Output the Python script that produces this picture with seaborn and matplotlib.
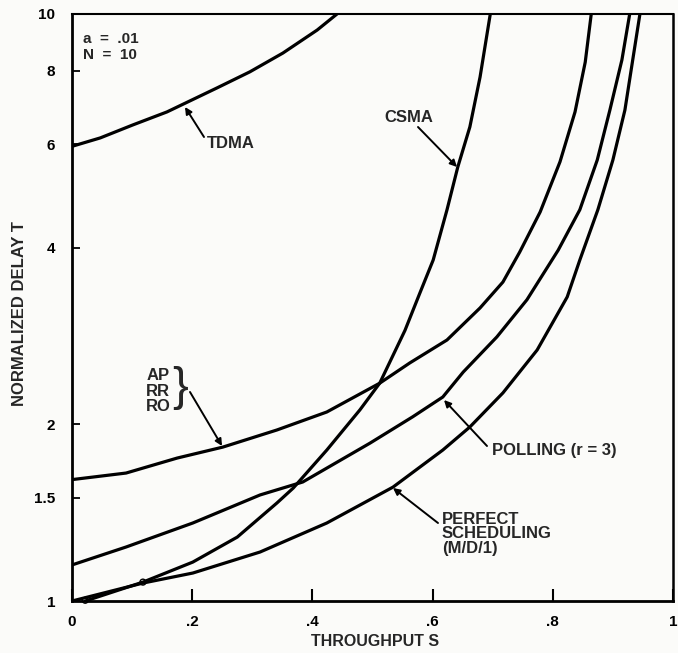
import numpy as np
import pandas as pd
import matplotlib
matplotlib.use("Agg")
import matplotlib.pyplot as plt
from matplotlib.ticker import FixedLocator, NullLocator
import seaborn as sns

# ---- data ----
tdma_s = [0.0, 0.047, 0.101, 0.158, 0.241, 0.296, 0.351, 0.408, 0.441]
tdma_t = [5.95, 6.15, 6.47, 6.81, 7.48, 7.97, 8.58, 9.39, 10.0]

csma_s = [0.022, 0.118, 0.201, 0.275, 0.341, 0.368, 0.424, 0.479, 0.512,
          0.554, 0.579, 0.601, 0.624, 0.642, 0.662, 0.679, 0.696]
csma_t = [1.0, 1.077, 1.165, 1.285, 1.469, 1.557, 1.808, 2.116, 2.35,
          2.89, 3.35, 3.81, 4.64, 5.49, 6.42, 7.81, 10.0]
csma_marker_s = [0.022, 0.118]
csma_marker_t = [1.003, 1.077]

ap_s = [0.0, 0.09, 0.175, 0.251, 0.341, 0.424, 0.512, 0.562, 0.624, 0.679,
        0.717, 0.745, 0.779, 0.812, 0.837, 0.854, 0.864]
ap_t = [1.61, 1.652, 1.752, 1.829, 1.956, 2.099, 2.35, 2.544, 2.784, 3.157,
        3.494, 3.931, 4.60, 5.60, 6.81, 8.28, 10.0]

poll_s = [0.0, 0.09, 0.201, 0.313, 0.384, 0.496, 0.567, 0.617, 0.651, 0.707,
          0.757, 0.809, 0.845, 0.874, 0.895, 0.915, 0.928]
poll_t = [1.152, 1.236, 1.358, 1.516, 1.595, 1.858, 2.06, 2.226, 2.455, 2.818,
          3.26, 3.96, 4.64, 5.64, 6.86, 8.35, 10.0]

perf_s = [0.0, 0.118, 0.201, 0.313, 0.424, 0.534, 0.617, 0.662, 0.717, 0.774,
          0.824, 0.845, 0.875, 0.900, 0.920, 0.933, 0.945]
perf_t = [1.0, 1.073, 1.116, 1.212, 1.358, 1.563, 1.808, 1.979, 2.262, 2.677,
          3.296, 3.81, 4.64, 5.64, 6.86, 8.35, 10.0]

x_ticks = [0, 0.2, 0.4, 0.6, 0.8, 1.0]
x_ticklabels = ["0", ".2", ".4", ".6", ".8", "1"]
y_ticks = [1, 1.5, 2, 4, 6, 8, 10]
y_ticklabels = ["1", "1.5", "2", "4", "6", "8", "10"]

curves = {
    "TDMA": (tdma_s, tdma_t),
    "CSMA": (csma_s, csma_t),
    "AP": (ap_s, ap_t),
    "POLLING": (poll_s, poll_t),
    "PERFECT": (perf_s, perf_t),
}
frames = []
for name, (s, t) in curves.items():
    frames.append(pd.DataFrame({"S": s, "T": t, "curve": name}))
df = pd.concat(frames, ignore_index=True)

# ---- styling ----
sns.set_style("ticks")
plt.rcParams["font.family"] = ["Liberation Sans", "DejaVu Sans"]
plt.rcParams["font.weight"] = "bold"

BG = "#fbfbf9"
fig = plt.figure(figsize=(6.78, 6.53), dpi=100, facecolor=BG)
ax = fig.add_axes([0.1062, 0.0796, 0.8864, 0.899], facecolor=BG)

for name in curves:
    sub = df[df["curve"] == name]
    sns.lineplot(data=sub, x="S", y="T", ax=ax, color="black", lw=2.3,
                 sort=False, estimator=None, legend=False)

sns.scatterplot(x=csma_marker_s, y=csma_marker_t, ax=ax, marker="o", s=18,
                facecolors="none", edgecolors="black", linewidth=1.0,
                clip_on=False, zorder=5)

ax.set_yscale("log")
ax.set_xlim(0, 1)
ax.set_ylim(1, 10)
ax.xaxis.set_major_locator(FixedLocator(x_ticks))
ax.set_xticklabels(x_ticklabels)
ax.yaxis.set_major_locator(FixedLocator(y_ticks))
ax.yaxis.set_minor_locator(NullLocator())
ax.set_yticklabels(y_ticklabels)

ax.tick_params(axis="x", direction="in", length=9, width=1.5, pad=10,
               labelsize=11, colors="black")
ax.tick_params(axis="y", direction="in", length=6, width=1.3, pad=12,
               labelsize=11, colors="black")
for lab in ax.get_xticklabels() + ax.get_yticklabels():
    lab.set_fontweight("bold")

for side in ["left", "bottom", "top", "right"]:
    ax.spines[side].set_visible(True)
    ax.spines[side].set_color("black")
ax.spines["left"].set_linewidth(2.0)
ax.spines["bottom"].set_linewidth(2.0)
ax.spines["top"].set_linewidth(1.5)
ax.spines["right"].set_linewidth(1.8)

ax.set_xlabel("")
ax.set_ylabel("")
fig.text(375 / 678, 1 - 641 / 653, "THROUGHPUT S", ha="center", va="center",
         fontsize=11.5, fontweight="bold")
fig.text(20 / 678, 1 - 314 / 653, "NORMALIZED DELAY T", ha="center",
         va="center", rotation=90, fontsize=12, fontweight="bold")

def px(x, y):
    """pixel of the figure -> figure fraction"""
    return (x / 678, 1 - y / 653)

fs = 12
ax.text(*px(83, 47), "a  =  .01\nN  =  10", transform=fig.transFigure,
        ha="left", va="center", fontsize=11, fontweight="bold",
        linespacing=1.15)

arrow = dict(arrowstyle="-|>", color="black", lw=1.4, mutation_scale=10,
             shrinkA=0, shrinkB=0)

ax.text(*px(207, 143), "TDMA", transform=fig.transFigure, ha="left",
        va="center", fontsize=fs, fontweight="bold")
ax.annotate("", xy=px(185, 107), xycoords="figure fraction",
            xytext=px(204, 137), textcoords="figure fraction",
            arrowprops=arrow)

ax.text(*px(384, 118), "CSMA", transform=fig.transFigure, ha="left",
        va="center", fontsize=fs, fontweight="bold")
ax.annotate("", xy=px(457, 167), xycoords="figure fraction",
            xytext=px(418, 127), textcoords="figure fraction",
            arrowprops=arrow)

ax.text(*px(158, 391), "AP\nRR\nRO", transform=fig.transFigure,
        ha="center", va="center", fontsize=fs, fontweight="bold",
        linespacing=1.05)
ax.text(*px(180, 388), "}", transform=fig.transFigure, ha="center",
        va="center", fontsize=34, fontweight="normal",
        family="Liberation Sans")
ax.annotate("", xy=px(222, 446), xycoords="figure fraction",
            xytext=px(190, 392), textcoords="figure fraction",
            arrowprops=arrow)

ax.text(*px(492, 450), "POLLING (r = 3)", transform=fig.transFigure,
        ha="left", va="center", fontsize=fs, fontweight="bold")
ax.annotate("", xy=px(444, 400), xycoords="figure fraction",
            xytext=px(487, 446), textcoords="figure fraction",
            arrowprops=arrow)

ax.text(*px(442, 534), "PERFECT\nSCHEDULING\n(M/D/1)",
        transform=fig.transFigure, ha="left", va="center", fontsize=fs,
        fontweight="bold", linespacing=1.0)
ax.annotate("", xy=px(393, 488), xycoords="figure fraction",
            xytext=px(438, 523), textcoords="figure fraction",
            arrowprops=arrow)

fig.savefig("out.png", dpi=100, facecolor=BG)
